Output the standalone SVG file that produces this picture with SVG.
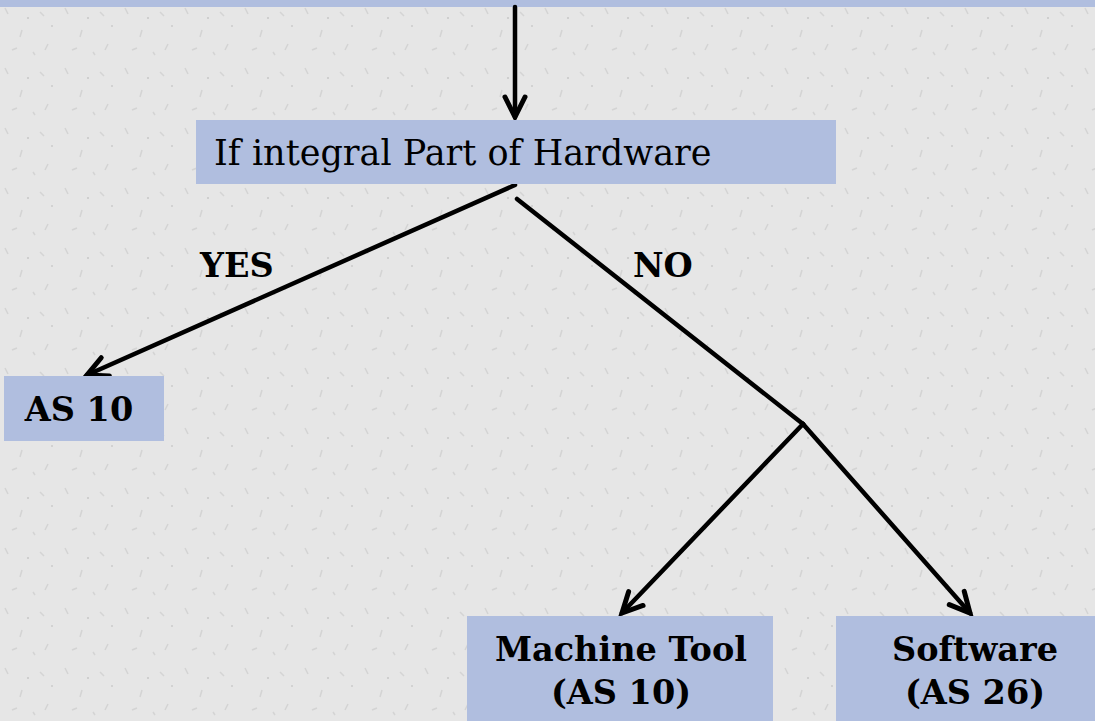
<svg xmlns="http://www.w3.org/2000/svg" width="1095" height="721" viewBox="0 0 1095 721">
  <style>
    .box { fill: #b0bedf; }
    .lbl { font-family: "DejaVu Serif", "Liberation Serif", serif; font-size: 33.5px; fill: #000; }
    .reg { font-size: 35px; }
    .b { font-weight: bold; }
    .edge { stroke: #000; stroke-width: 4.5; fill: none; stroke-linecap: round; }
  </style>
  <defs>
    <marker id="arr" markerUnits="userSpaceOnUse" markerWidth="40" markerHeight="40" viewBox="-30 -20 40 40" refX="0" refY="0" orient="auto">
      <path d="M-20,-10 L0,0 L-20,10" fill="none" stroke="#000" stroke-width="5" stroke-linecap="round" stroke-linejoin="miter"/>
    </marker>
    <pattern id="tex" width="60" height="60" patternUnits="userSpaceOnUse">
      <rect width="60" height="60" fill="#e6e6e6"/>
      <path d="M5,8 l3,6 M22,30 l-2,7 M40,12 l4,4 M48,44 l-3,6 M12,50 l5,-2 M33,52 l2,3" stroke="#d4d4d4" stroke-width="1.5"/>
      <circle cx="28" cy="18" r="1" fill="#c8c8c8"/>
      <circle cx="52" cy="26" r="1" fill="#cccccc"/>
    </pattern>
  </defs>

  <rect width="1095" height="721" fill="url(#tex)"/>
  <rect id="topband" x="0" y="0" width="1095" height="7" class="box"/>

  <g id="connectors">
    <line class="edge" x1="515" y1="7" x2="515" y2="117" marker-end="url(#arr)"/>
    <line class="edge" x1="515" y1="185" x2="87" y2="375" marker-end="url(#arr)"/>
    <line class="edge" x1="517" y1="199" x2="803" y2="424"/>
    <line class="edge" x1="803" y1="424" x2="622" y2="613" marker-end="url(#arr)"/>
    <line class="edge" x1="803" y1="424" x2="970" y2="613" marker-end="url(#arr)"/>
    <text class="lbl b" x="200" y="277">YES</text>
    <text class="lbl b" x="633" y="277">NO</text>
  </g>

  <g id="node-hardware">
    <rect class="box" x="196" y="120" width="640" height="64"/>
    <text class="lbl reg" x="214" y="165">If integral Part of Hardware</text>
  </g>

  <g id="node-as10">
    <rect class="box" x="4" y="376" width="160" height="65"/>
    <text class="lbl b" x="79" y="421" text-anchor="middle">AS 10</text>
  </g>

  <g id="node-machine-tool">
    <rect class="box" x="467" y="616" width="306" height="105"/>
    <text class="lbl b" x="621" y="661" text-anchor="middle">Machine Tool</text>
    <text class="lbl b" x="621" y="704" text-anchor="middle">(AS 10)</text>
  </g>

  <g id="node-software">
    <rect class="box" x="836" y="616" width="259" height="105"/>
    <text class="lbl b" x="975" y="661" text-anchor="middle">Software</text>
    <text class="lbl b" x="975" y="704" text-anchor="middle">(AS 26)</text>
  </g>
</svg>
